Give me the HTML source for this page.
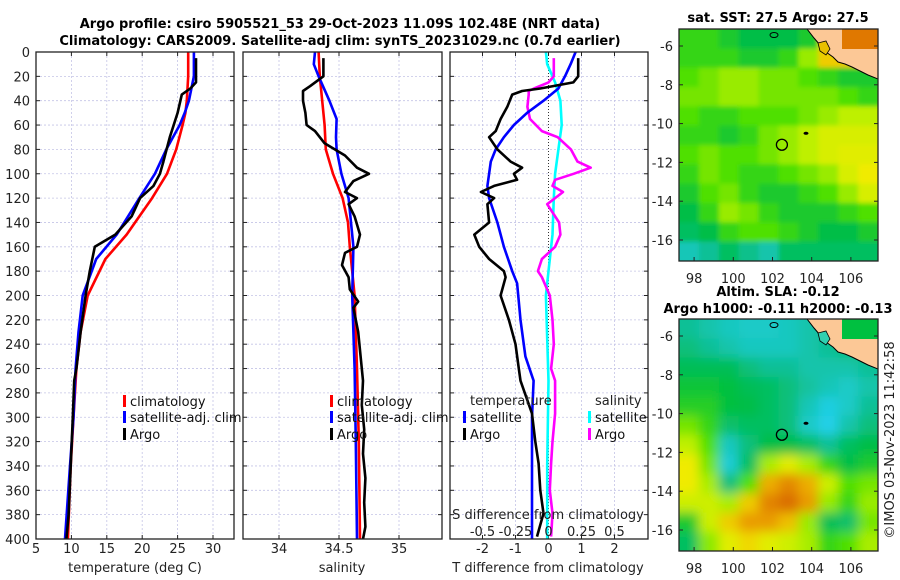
<!DOCTYPE html>
<html><head><meta charset="utf-8">
<style>
html,body{margin:0;padding:0;background:#fff;}
svg{display:block;font-family:"DejaVu Sans","Liberation Sans",sans-serif;}
</style></head>
<body>
<svg id="c" width="900" height="580" viewBox="0 0 900 580">
<defs>
<filter id="blurS" x="-10%" y="-10%" width="120%" height="120%"><feGaussianBlur stdDeviation="2.5"/></filter>
<filter id="blurA" x="-10%" y="-10%" width="120%" height="120%"><feGaussianBlur stdDeviation="5.5"/></filter>
<clipPath id="clipTop"><rect x="679" y="29" width="199" height="232"/></clipPath>
<clipPath id="clipBot"><rect x="679" y="319" width="199" height="232"/></clipPath>
<clipPath id="cp1"><rect x="36" y="52" width="198" height="487"/></clipPath>
<clipPath id="cp2"><rect x="243" y="52" width="199" height="487"/></clipPath>
<clipPath id="cp3"><rect x="450" y="52" width="198" height="487"/></clipPath>
</defs>
<text x="340" y="28" text-anchor="middle" font-size="13" font-weight="bold">Argo profile: csiro 5905521_53 29-Oct-2023 11.09S 102.48E (NRT data)</text>
<text x="340" y="45" text-anchor="middle" font-size="13" font-weight="bold">Climatology: CARS2009. Satellite-adj clim: synTS_20231029.nc (0.7d earlier)</text>
<text x="778" y="22" text-anchor="middle" font-size="13" font-weight="bold">sat. SST: 27.5 Argo: 27.5</text>
<text x="778" y="296" text-anchor="middle" font-size="13" font-weight="bold">Altim. SLA: -0.12</text>
<text x="778" y="313" text-anchor="middle" font-size="13" font-weight="bold">Argo h1000: -0.11 h2000: -0.13</text>
<text transform="translate(894,440) rotate(-90)" text-anchor="middle" font-size="13" fill="#222">©IMOS 03-Nov-2023 11:42:58</text>
<g id="plots"></g>
</svg>
<script>
// ---- profile data (depth in m) ----
const depthT=[5,25,30,35,50,70,90,100,110,120,135,150,160,180,200,230,260,270,300,340,380,400];
const argoTemp=[27.6,27.6,26.8,25.6,25.0,23.9,23.0,22.5,21.6,19.7,18.5,16.2,13.3,12.6,12.0,11.3,10.7,10.4,10.2,9.9,9.6,9.3];
const climDepth=[0,20,40,50,60,80,100,120,150,170,200,230,260,300,340,400];
const climTemp=[26.5,26.5,26.3,26.1,25.7,24.8,23.5,21.4,17.8,14.8,12.3,11.3,10.7,10.3,9.9,9.5];
const satTemp=[27.3,27.3,26.6,26.0,25.3,23.4,21.8,19.6,16.4,13.5,11.6,11.0,10.6,10.3,9.8,9.1];

const salDepth=[5,20,28,32,40,50,60,65,75,85,95,100,106,115,120,125,135,150,160,165,175,185,195,205,210,230,250,270,290,310,330,350,370,390,400];
const argoSal=[34.37,34.37,34.26,34.2,34.2,34.22,34.23,34.3,34.38,34.55,34.65,34.75,34.62,34.55,34.65,34.58,34.63,34.675,34.65,34.55,34.525,34.58,34.59,34.66,34.62,34.66,34.68,34.7,34.69,34.71,34.7,34.72,34.71,34.72,34.7];
const climSalDepth=[0,20,40,60,80,100,120,140,160,180,200,260,320,400];
const climSal=[34.33,34.34,34.36,34.38,34.39,34.45,34.53,34.575,34.59,34.61,34.63,34.65,34.665,34.675];
const satSalDepth=[0,10,20,40,55,70,80,100,120,140,160,200,260,320,400];
const satSal=[34.3,34.29,34.33,34.42,34.48,34.475,34.48,34.52,34.58,34.6,34.62,34.61,34.63,34.64,34.65];

const dDepth=[5,20,25,30,32,35,45,55,65,70,80,90,95,100,105,110,115,120,125,140,150,160,170,180,185,200,220,240,260,270,297,320,338,360,379,398];
const argoDT=[0.9,0.9,0.75,-0.25,-0.8,-1.1,-1.25,-1.45,-1.6,-1.8,-1.55,-1.15,-0.8,-1.05,-0.95,-1.65,-2.05,-1.65,-1.85,-1.8,-2.25,-2.1,-1.8,-1.35,-1.3,-1.45,-1.2,-1.0,-0.9,-0.85,-0.5,-0.4,-0.3,-0.25,-0.15,-0.35];
const satDTDepth=[0,10,20,30,40,50,60,70,80,90,100,110,120,140,160,180,190,220,250,270,300,350,400];
const satDT=[0.82,0.67,0.5,0.3,-0.15,-0.65,-1.05,-1.35,-1.6,-1.75,-1.8,-1.85,-1.8,-1.55,-1.35,-1.1,-0.95,-0.85,-0.7,-0.45,-0.5,-0.5,-0.5];
const argoDS=[0.04,0.04,0.0,-0.11,-0.15,-0.15,-0.16,-0.14,-0.05,0.07,0.17,0.22,0.32,0.19,0.05,0.03,0.11,0.05,-0.01,0.08,0.09,0.05,-0.05,-0.08,-0.05,0.01,0.03,0.04,0.02,0.05,0.05,0.03,0.02,0.01,0.03,0.02];
const satDSDepth=[0,10,25,40,60,80,100,120,150,180,200,270,340,400];
const satDS=[-0.02,-0.01,0.05,0.09,0.1,0.075,0.05,0.04,0.03,0.0,-0.02,0.0,-0.01,-0.01];

const depthTicks=[0,20,40,60,80,100,120,140,160,180,200,220,240,260,280,300,320,340,360,380,400];
const tempTicks=[5,10,15,20,25,30];
const salTicks=[34,34.5,35];
const dTTicks=[-2,-1,0,1,2];
const dSTicks=[-0.5,-0.25,0,0.25,0.5];

// ---- map data (rows lat -5.5 .. -16.5, cols lon ~97.75 .. 106.9) ----
const sstGrid=[
[0.45,0.45,0.4,0.35,0.35,0.35,0.4,0.75,0.8,0.85],
[0.45,0.45,0.45,0.4,0.4,0.45,0.6,0.8,0.8,0.8],
[0.5,0.55,0.6,0.6,0.55,0.55,0.5,0.45,0.4,0.4],
[0.55,0.55,0.6,0.6,0.55,0.55,0.55,0.55,0.5,0.45],
[0.5,0.45,0.45,0.5,0.5,0.5,0.55,0.6,0.65,0.65],
[0.45,0.45,0.4,0.45,0.55,0.6,0.65,0.7,0.7,0.7],
[0.5,0.55,0.5,0.5,0.55,0.6,0.65,0.7,0.72,0.72],
[0.45,0.55,0.5,0.45,0.45,0.5,0.55,0.6,0.7,0.75],
[0.4,0.5,0.55,0.45,0.4,0.4,0.45,0.5,0.6,0.7],
[0.35,0.45,0.6,0.55,0.45,0.4,0.4,0.4,0.45,0.5],
[0.3,0.35,0.45,0.5,0.5,0.45,0.4,0.35,0.35,0.4],
[0.12,0.2,0.3,0.22,0.15,0.3,0.3,0.3,0.3,0.3]];
const slaGrid=[
[0.2,0.15,0.1,0.08,0.08,0.1,0.15,0.2,0.3,0.35],
[0.25,0.2,0.15,0.1,0.1,0.1,0.15,0.2,0.25,0.3],
[0.32,0.32,0.32,0.25,0.2,0.2,0.15,0.15,0.15,0.2],
[0.38,0.38,0.36,0.32,0.3,0.25,0.18,0.12,0.08,0.15],
[0.42,0.42,0.36,0.35,0.3,0.25,0.12,0.02,0.08,0.2],
[0.55,0.45,0.28,0.3,0.3,0.25,0.08,0.0,0.15,0.25],
[0.65,0.5,0.1,0.25,0.35,0.35,0.3,0.2,0.3,0.35],
[0.75,0.55,0.05,0.3,0.62,0.72,0.62,0.45,0.35,0.4],
[0.75,0.62,0.25,0.5,0.85,0.92,0.85,0.68,0.5,0.55],
[0.68,0.68,0.62,0.8,0.93,0.98,0.88,0.6,0.45,0.6],
[0.4,0.68,0.8,0.88,0.88,0.82,0.6,0.32,0.28,0.55],
[0.3,0.58,0.72,0.78,0.72,0.68,0.62,0.45,0.5,0.62]];
const lonTicks=[98,100,102,104,106];
const latTicks=[-6,-8,-10,-12,-14,-16];
const argoLon=102.48, argoLat=-11.09;

const NS='http://www.w3.org/2000/svg';
const root=document.getElementById('plots');
function mk(tag,attrs,parent){const e=document.createElementNS(NS,tag);for(const k in attrs)e.setAttribute(k,attrs[k]);(parent||root).appendChild(e);return e;}

const Y0=52,YS=1.2175;
const yD=d=>Y0+d*YS;
const xT=t=>36+(t-5)*7.08;
const xS=s=>279+(s-34)*120;
const xDT=v=>548.5+v*33;
const xDS=v=>548.5+v*132;

function panel(x0,x1,name,vgrid){
  const g=mk('g',{});
  
  
  depthTicks.forEach(d=>{ if(d>0&&d<400) mk('line',{x1:x0,x2:x1,y1:yD(d),y2:yD(d),stroke:'#c4c4e6','stroke-width':0.8,'stroke-dasharray':'2,2'},g);});
  vgrid.forEach(x=>mk('line',{x1:x,x2:x,y1:Y0,y2:yD(400),stroke:'#c4c4e6','stroke-width':0.8,'stroke-dasharray':'2,2'},g));
  depthTicks.forEach(d=>{mk('line',{x1:x0,x2:x0+4,y1:yD(d),y2:yD(d),stroke:'#222'},g);mk('line',{x1:x1-4,x2:x1,y1:yD(d),y2:yD(d),stroke:'#222'},g);});
  return g;
}
function line(xs,ds,fx,color,clip,name,w){
  const pts=xs.map((v,i)=>fx(v).toFixed(1)+','+yD(ds[i]).toFixed(1)).join(' ');
  const p=mk('polyline',{points:pts,fill:'none',stroke:color,'stroke-width':w||2.6,'stroke-linejoin':'round','clip-path':'url(#'+clip+')'});
  
  
}
function frame(x0,x1,name){
  const r=mk('rect',{x:x0,y:Y0,width:x1-x0,height:yD(400)-Y0,fill:'none',stroke:'#222','stroke-width':1.3});
  
  
}
function txt(x,y,s,attrs,name){
  const t=mk('text',Object.assign({x:x,y:y,'font-size':13,fill:'#222'},attrs||{}));
  t.textContent=s;
  
  
  return t;
}

// Panel 1 temperature
panel(36,234,'temperature-panel',tempTicks.slice(1).map(xT));
tempTicks.forEach(t=>{mk('line',{x1:xT(t),x2:xT(t),y1:yD(400),y2:yD(400)-4,stroke:'#222'});mk('line',{x1:xT(t),x2:xT(t),y1:Y0,y2:Y0+4,stroke:'#222'});txt(xT(t),553,String(t),{'text-anchor':'middle'},'temperature-tick-label');});
depthTicks.forEach(d=>txt(30,yD(d)+5,String(d),{'text-anchor':'end'},'depth-tick-label'));
line(climTemp,climDepth,xT,'#f00','cp1','temp-climatology-line');
line(satTemp,climDepth,xT,'#00f','cp1','temp-satellite-line');
line(argoTemp,depthT,xT,'#000','cp1','temp-argo-line');
frame(36,234,'temperature-axes-frame');
txt(135,572,'temperature (deg C)',{'text-anchor':'middle'},'temperature-axis-title');

// Panel 2 salinity
panel(243,442,'salinity-panel',salTicks.map(xS));
salTicks.forEach(s=>{mk('line',{x1:xS(s),x2:xS(s),y1:yD(400),y2:yD(400)-4,stroke:'#222'});mk('line',{x1:xS(s),x2:xS(s),y1:Y0,y2:Y0+4,stroke:'#222'});txt(xS(s),553,String(s),{'text-anchor':'middle'},'salinity-tick-label');});
line(climSal,climSalDepth,xS,'#f00','cp2','sal-climatology-line');
line(satSal,satSalDepth,xS,'#00f','cp2','sal-satellite-line');
line(argoSal,salDepth,xS,'#000','cp2','sal-argo-line');
frame(243,442,'salinity-axes-frame');
txt(342,572,'salinity',{'text-anchor':'middle'},'salinity-axis-title');

// Panel 3 differences
panel(450,648,'difference-panel',dTTicks.filter(v=>v!==0).map(xDT));
mk('line',{x1:xDT(0),x2:xDT(0),y1:Y0,y2:yD(400),stroke:'#333','stroke-width':1,'stroke-dasharray':'1,2'});
dTTicks.forEach(v=>{mk('line',{x1:xDT(v),x2:xDT(v),y1:yD(400),y2:yD(400)-4,stroke:'#222'});mk('line',{x1:xDT(v),x2:xDT(v),y1:Y0,y2:Y0+4,stroke:'#222'});txt(xDT(v),553,String(v),{'text-anchor':'middle'},'t-diff-tick-label');});
line(satDS,satDSDepth,xDS,'#0ff','cp3','s-diff-satellite-line');
line(argoDS,dDepth,xDS,'#f0f','cp3','s-diff-argo-line');
line(satDT,satDTDepth,xDT,'#00f','cp3','t-diff-satellite-line');
line(argoDT,dDepth,xDT,'#000','cp3','t-diff-argo-line');
frame(450,648,'difference-axes-frame');
txt(548,572,'T difference from climatology',{'text-anchor':'middle'},'t-diff-axis-title');
txt(548,519,'S difference from climatology',{'text-anchor':'middle'},'s-diff-axis-title');
dSTicks.forEach(v=>txt(xDS(v),536,String(v),{'text-anchor':'middle'},'s-diff-tick-label'));

// Legends
function legItem(x,y,color,label,name){
  const g=mk('g',{});
  
  
  mk('rect',{x:x,y:y-11,width:3,height:12,fill:color},g);
  const t=mk('text',{x:x+7,y:y,'font-size':13,fill:'#111'},g);t.textContent=label;
}
legItem(123,406,'#f00','climatology','legend-entry-climatology');
legItem(123,422,'#00f','satellite-adj. clim','legend-entry-satellite');
legItem(123,439,'#000','Argo','legend-entry-argo');
legItem(330,406,'#f00','climatology','legend-entry-climatology');
legItem(330,422,'#00f','satellite-adj. clim','legend-entry-satellite');
legItem(330,439,'#000','Argo','legend-entry-argo');
txt(470,405,'temperature',{},'legend-title-temperature');
legItem(463,422,'#00f','satellite','legend-entry-t-satellite');
legItem(463,439,'#000','Argo','legend-entry-t-argo');
txt(595,405,'salinity',{},'legend-title-salinity');
legItem(588,422,'#0ff','satellite','legend-entry-s-satellite');
legItem(588,439,'#f0f','Argo','legend-entry-s-argo');

// ---- Maps ----
const LON0=97.23,LONS=19.6;
const mx=lon=>679+(lon-LON0)*LONS;
function cmap(v){
  const st=[[0,[32,208,232]],[0.2,[16,192,150]],[0.35,[0,190,70]],[0.5,[80,224,0]],[0.65,[190,240,0]],[0.75,[240,235,0]],[0.87,[235,160,0]],[1,[215,100,0]]];
  for(let i=1;i<st.length;i++){if(v<=st[i][0]){const a=st[i-1],b=st[i],f=(v-a[0])/(b[0]-a[0]);return 'rgb('+a[1].map((c,j)=>Math.round(c+(b[1][j]-c)*f)).join(',')+')';}}
  return 'rgb(215,100,0)';
}
function map(top,grid,filt,clip,name,landTop){
  const my=lat=>top+17+(-6-lat)*19.4;
  const g=mk('g',{'clip-path':'url(#'+clip+')'});
  
  
  const inner=mk('g',{filter:'url(#'+filt+')'},g);
  const rows=grid.length,cols=grid[0].length;
  const cw=(878-679)/cols, chh=232/rows;
  for(let r=-1;r<=rows;r++)for(let c=-1;c<=cols;c++){
    const rr=Math.min(rows-1,Math.max(0,r)),cc=Math.min(cols-1,Math.max(0,c));
    const cell=mk('rect',{x:679+c*cw,y:top+r*chh,width:cw+1,height:chh+1,fill:cmap(grid[rr][cc])},inner);
    
    
  }
  mk('polygon',{points:[[807,0],[814,9],[820,16],[826,23],[833,28],[838,33],[845,35],[852,38],[860,42],[868,46],[878,50],[878,0]].map(p=>p[0]+','+(top+p[1])).join(' '),fill:'#fcc896',stroke:'#000','stroke-width':1},g);
  mk('rect',{x:842,y:top,width:36,height:20,fill:landTop},g);
  mk('polygon',{points:[[818,14],[826,12],[830,20],[826,26],[820,22]].map(p=>p[0]+','+(top+p[1])).join(' '),fill:landTop==='#e07800'?'#e8c000':'#30d0b0',stroke:'#000','stroke-width':0.8},g);
  mk('ellipse',{cx:774,cy:top+6,rx:4,ry:2.5,fill:'none',stroke:'#000','stroke-width':1},g);
  mk('ellipse',{cx:806,cy:my(-10.5),rx:2.5,ry:1.5,fill:'#000'},g);
  const c=mk('circle',{cx:mx(argoLon),cy:my(argoLat),r:5.5,fill:'none',stroke:'#000','stroke-width':1.3},g);
  
  
  const fr=mk('rect',{x:679,y:top,width:199,height:232,fill:'none',stroke:'#222','stroke-width':1.3});
  
  
  latTicks.forEach(l=>{mk('line',{x1:874,x2:878,y1:my(l),y2:my(l),stroke:'#222'});mk('line',{x1:679,x2:683,y1:my(l),y2:my(l),stroke:'#222'});txt(673,my(l)+5,String(l),{'text-anchor':'end'},'lat-tick-label');});
  lonTicks.forEach(l=>{mk('line',{x1:mx(l),x2:mx(l),y1:top+232,y2:top+228,stroke:'#222'});txt(mx(l),top+254,String(l),{'text-anchor':'middle'},'lon-tick-label');});
}
map(29,sstGrid,'blurS','clipTop','sst-map','#e07800');
map(319,slaGrid,'blurA','clipBot','sla-map','#00c040');
</script>
</body></html>
